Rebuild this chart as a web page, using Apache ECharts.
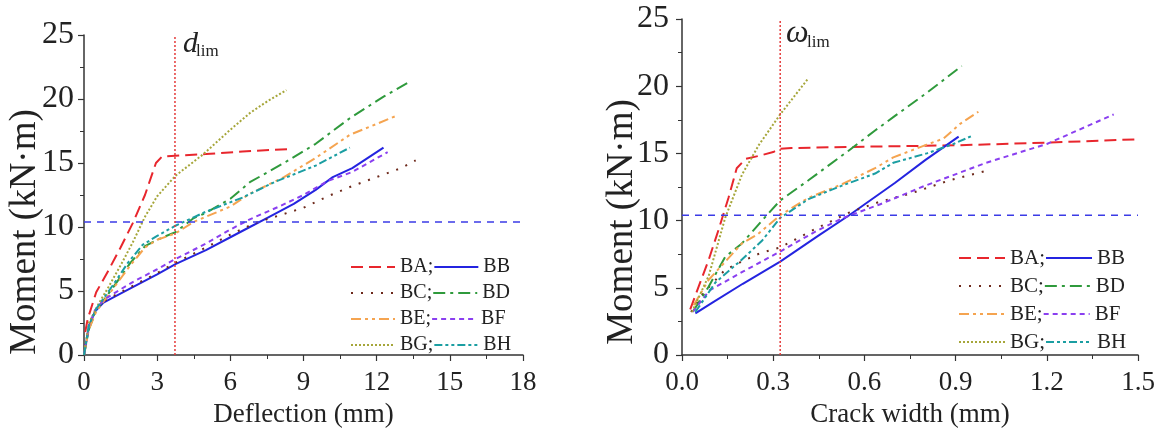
<!DOCTYPE html>
<html>
<head>
<meta charset="utf-8">
<script src="https://cdn.jsdelivr.net/npm/echarts@6/dist/echarts.min.js"></script>
<style>
  html, body { margin: 0; padding: 0; background: #fff; }
  #chart { width: 1162px; height: 433px; }
</style>
</head>
<body>
<div id="chart"></div>
<script>
// limits (reference lines)
const momentLim = 10.4;
const deflLim = 3.73;
const crackLim = 0.323;

const seriesNames = ['BA', 'BB', 'BC', 'BD', 'BE', 'BF', 'BG', 'BH'];

// moment vs deflection, [deflection mm, moment kN.m]
const deflBA = [[0.05, 1.8], [0.15, 2.8], [0.5, 4.9], [1, 6.6], [1.5, 8.4], [2, 10.3], [2.5, 12.5], [2.95, 15.0], [3.2, 15.5], [4, 15.6], [5, 15.7], [6.5, 15.9], [8.5, 16.1]];
const deflBB = [[0, 0], [0.2, 2.2], [0.45, 3.4], [0.8, 4.1], [1.3, 4.6], [2, 5.3], [3, 6.3], [3.75, 7.1], [5, 8.2], [6, 9.2], [6.8, 10.0], [7.5, 10.7], [8.6, 11.8], [9.5, 12.9], [10.2, 13.9], [11, 14.6], [12.28, 16.2]];
const deflBC = [[0, 0], [0.2, 2.2], [0.45, 3.4], [0.8, 4.2], [1.3, 4.7], [2, 5.4], [3, 6.4], [3.75, 7.2], [5, 8.4], [6, 9.4], [7, 10.3], [8, 10.9], [9, 11.5], [10, 12.4], [11, 13.2], [12, 13.9], [13, 14.6], [13.6, 15.2]];
const deflBD = [[0, 0], [0.2, 2.0], [0.5, 3.5], [1.2, 5.3], [1.9, 7.2], [2.5, 8.5], [3, 9.0], [3.75, 9.6], [4.5, 10.7], [5, 11.1], [6, 12.2], [6.8, 13.5], [8.2, 15.0], [9.5, 16.5], [10.9, 18.5], [12.3, 20.2], [13.4, 21.4]];
const deflBE = [[0, 0], [0.2, 2.0], [0.5, 3.4], [1.2, 5.2], [1.9, 7.0], [2.5, 8.4], [3, 9.0], [3.75, 9.5], [4.5, 10.4], [5, 10.8], [6, 11.6], [6.8, 12.6], [8.2, 13.9], [9.5, 15.4], [10.9, 17.2], [12.83, 18.7]];
const deflBF = [[0, 0], [0.2, 2.3], [0.45, 3.5], [0.8, 4.3], [1.3, 4.9], [2, 5.7], [3, 6.7], [3.75, 7.5], [5, 8.7], [6, 9.8], [6.8, 10.6], [8, 11.6], [9, 12.5], [10, 13.6], [11, 14.3], [12.45, 15.85]];
const deflBG = [[0, 0], [0.2, 2.5], [0.6, 4.0], [1, 5.3], [1.5, 7.0], [2, 8.8], [2.5, 10.8], [3, 12.4], [3.75, 14.0], [4.9, 15.7], [6, 17.6], [6.8, 18.9], [7.5, 19.8], [8.3, 20.7]];
const deflBH = [[0, 0], [0.2, 2.3], [0.5, 3.6], [1.2, 5.5], [1.8, 7.2], [2.4, 8.6], [3, 9.3], [3.75, 10.1], [5, 11.2], [6.5, 12.3], [7.8, 13.5], [9.5, 14.8], [10.9, 16.2]];

// moment vs crack width, [crack width mm, moment kN.m]
const crackBA = [[0.027, 3.4], [0.055, 5.1], [0.088, 7.1], [0.12, 9.3], [0.153, 11.7], [0.18, 13.9], [0.21, 14.6], [0.25, 14.8], [0.3, 15.1], [0.323, 15.35], [0.36, 15.4], [0.6, 15.5], [0.9, 15.6], [1.2, 15.8], [1.5, 16.05]];
const crackBB = [[0.044, 3.1], [0.1, 3.9], [0.2, 5.3], [0.323, 6.95], [0.45, 8.9], [0.55, 10.4], [0.7, 12.8], [0.8, 14.5], [0.91, 16.25]];
const crackBC = [[0.03, 3.2], [0.07, 4.6], [0.14, 6.3], [0.2, 7.0], [0.26, 7.6], [0.323, 8.0], [0.44, 9.4], [0.55, 10.6], [0.65, 11.4], [0.75, 12.0], [0.88, 13.0], [1.01, 13.75]];
const crackBD = [[0.038, 3.3], [0.088, 5.1], [0.142, 7.3], [0.197, 8.3], [0.263, 10.0], [0.323, 11.5], [0.416, 13.0], [0.548, 15.2], [0.635, 16.7], [0.695, 17.7], [0.805, 19.5], [0.92, 21.5]];
const crackBE = [[0.038, 3.7], [0.088, 5.6], [0.197, 8.3], [0.25, 9.0], [0.323, 10.4], [0.416, 11.7], [0.526, 12.7], [0.635, 13.9], [0.695, 14.7], [0.805, 15.65], [0.86, 16.1], [0.915, 17.2], [0.975, 18.1]];
const crackBF = [[0.035, 3.2], [0.09, 4.8], [0.2, 6.2], [0.323, 7.7], [0.44, 9.2], [0.53, 10.2], [0.65, 11.2], [0.8, 12.6], [1.0, 14.3], [1.2, 15.7], [1.42, 17.9]];
const crackBG = [[0.033, 3.2], [0.088, 5.9], [0.142, 10.2], [0.197, 13.4], [0.252, 15.6], [0.323, 17.9], [0.416, 20.6]];
const crackBH = [[0.044, 3.2], [0.11, 5.4], [0.197, 7.1], [0.263, 8.5], [0.323, 10.2], [0.416, 11.6], [0.526, 12.6], [0.635, 13.5], [0.695, 14.3], [0.805, 15.0], [0.893, 15.7], [0.953, 16.3]];

const deflData = { BA: deflBA, BB: deflBB, BC: deflBC, BD: deflBD, BE: deflBE, BF: deflBF, BG: deflBG, BH: deflBH };
const crackData = { BA: crackBA, BB: crackBB, BC: crackBC, BD: crackBD, BE: crackBE, BF: crackBF, BG: crackBG, BH: crackBH };

const FONT = '"Liberation Serif", "Times New Roman", serif';
const TXT = '#222';

const lineStyles = {
    BA: { color: '#e8262d', type: [12, 6] },
    BB: { color: '#2424e0', type: 'solid' },
    BC: { color: '#6e2a1c', type: [2, 8] },
    BD: { color: '#2f9a3c', type: [12, 5, 3, 5] },
    BE: { color: '#f5a450', type: [10, 4, 3, 4, 3, 4] },
    BF: { color: '#8a3ff0', type: [5, 4] },
    BG: { color: '#a6a63a', type: [2, 2] },
    BH: { color: '#1b9ea2', type: [8, 3, 3, 3, 3, 3] }
};

const makeSeries = (name, data, idx) => ({
    name: name,
    type: 'line',
    xAxisIndex: idx,
    yAxisIndex: idx,
    data: data,
    symbol: 'none',
    animation: false,
    itemStyle: { color: lineStyles[name].color },
    lineStyle: { color: lineStyles[name].color, type: lineStyles[name].type, width: 2 }
});

const refLine = (data, idx, color, type) => ({
    name: 'ref',
    type: 'line',
    xAxisIndex: idx,
    yAxisIndex: idx,
    data: data,
    symbol: 'none',
    silent: true,
    animation: false,
    lineStyle: { color: color, type: type, width: 1.5 }
});

const xAxisBase = (gi, min, max, interval, name, fmt) => ({
    type: 'value',
    gridIndex: gi,
    min: min,
    max: max,
    interval: interval,
    axisLine: { show: true, onZero: false, lineStyle: { color: '#333', width: 1.5 } },
    axisTick: { show: true, length: 6, lineStyle: { color: '#333', width: 1.2 } },
    minorTick: { show: true, splitNumber: 2, length: 4, lineStyle: { color: '#333', width: 1 } },
    splitLine: { show: false },
    axisLabel: { fontSize: 27, fontFamily: FONT, color: TXT, margin: 14, formatter: fmt },
    name: name,
    nameLocation: 'middle',
    nameGap: 46,
    nameTextStyle: { fontSize: 27, fontFamily: FONT, color: TXT }
});

const yAxisBase = (gi, margin) => ({
    type: 'value',
    gridIndex: gi,
    min: 0,
    max: 25,
    interval: 5,
    axisLine: { show: true, onZero: false, lineStyle: { color: '#333', width: 1.5 } },
    axisTick: { show: true, length: 6, lineStyle: { color: '#333', width: 1.2 } },
    minorTick: { show: true, splitNumber: 2, length: 4, lineStyle: { color: '#333', width: 1 } },
    splitLine: { show: false },
    axisLabel: { fontSize: 32, fontFamily: FONT, color: TXT, margin: margin }
});

const legendBase = (left, top, itemWidth, fontSize, lineHeight) => ({
    data: seriesNames,
    left: left,
    top: top,
    width: 2 * itemWidth + 80,
    orient: 'horizontal',
    itemGap: 0,
    itemWidth: itemWidth,
    itemHeight: 10,
    itemStyle: { opacity: 0, borderWidth: 0 },
    formatter: (n) => (['BA', 'BC', 'BE', 'BG'].includes(n) ? n + ';' : n),
    textStyle: { fontSize: fontSize, fontFamily: FONT, color: TXT, lineHeight: lineHeight }
});

const chart = echarts.init(document.getElementById('chart'), null, { renderer: 'canvas' });

const series = [];
seriesNames.forEach((n) => series.push(makeSeries(n, deflData[n], 0)));
seriesNames.forEach((n) => series.push(makeSeries(n, crackData[n], 1)));
series.push(refLine([[0, momentLim], [18, momentLim]], 0, '#3b3be6', [7, 6]));
series.push(refLine([[deflLim, 0], [deflLim, 25]], 0, '#e53a3a', [2, 2]));
series.push(refLine([[0, momentLim], [1.5, momentLim]], 1, '#3b3be6', [7, 6]));
series.push(refLine([[crackLim, 0], [crackLim, 25]], 1, '#e53a3a', [2, 2]));

const option = {
    backgroundColor: '#fff',
    animation: false,
    grid: [
        { left: 84, top: 35, width: 439, height: 328 },
        { left: 682, top: 19, width: 456, height: 342 }
    ],
    xAxis: [
        xAxisBase(0, 0, 18, 3, 'Deflection (mm)', (v) => String(v)),
        xAxisBase(1, 0, 1.5, 0.3, 'Crack width (mm)', (v) => v.toFixed(1))
    ],
    yAxis: [yAxisBase(0, 10), yAxisBase(1, 13)],
    legend: [
        legendBase(345, 249, 44, 20, 26),
        legendBase(953, 239, 46, 21, 28)
    ],
    graphic: [
        { type: 'text', x: 25, y: 232, rotation: Math.PI / 2, style: { text: 'Moment (kN\u00b7m)', font: '37px ' + FONT, fill: TXT, align: 'center', verticalAlign: 'middle' } },
        { type: 'text', x: 622, y: 222, rotation: Math.PI / 2, style: { text: 'Moment (kN\u00b7m)', font: '37px ' + FONT, fill: TXT, align: 'center', verticalAlign: 'middle' } },
        { type: 'text', x: 183, y: 44, style: { text: 'd', font: 'italic 30px ' + FONT, fill: TXT, align: 'left', verticalAlign: 'middle' } },
        { type: 'text', x: 196, y: 52, style: { text: 'lim', font: '17px ' + FONT, fill: TXT, align: 'left', verticalAlign: 'middle' } },
        { type: 'text', x: 786, y: 34, style: { text: '\u03c9', font: 'italic 32px ' + FONT, fill: TXT, align: 'left', verticalAlign: 'middle' } },
        { type: 'text', x: 807, y: 43, style: { text: 'lim', font: '17px ' + FONT, fill: TXT, align: 'left', verticalAlign: 'middle' } }
    ],
    series: series
};

chart.setOption(option);
</script>
</body>
</html>
